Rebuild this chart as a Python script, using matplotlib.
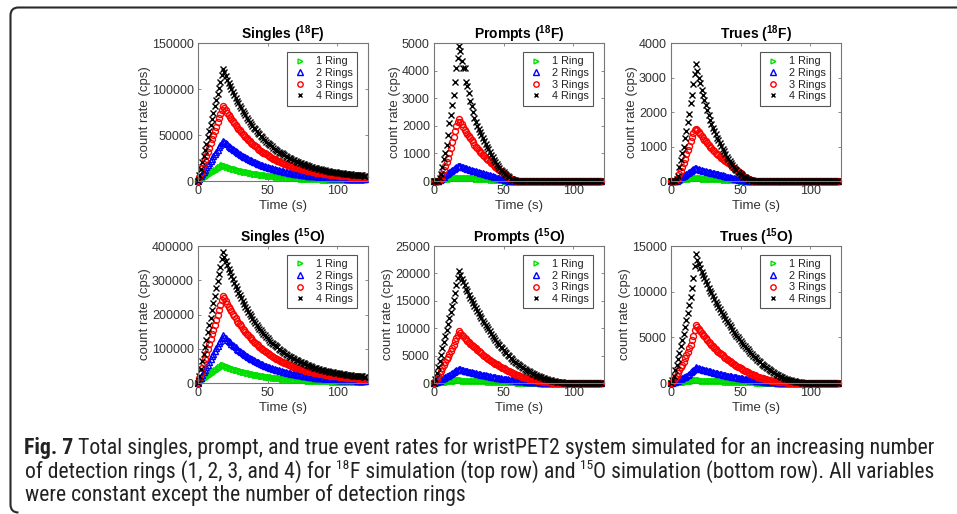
import numpy as np
import matplotlib
matplotlib.use('Agg')
import matplotlib.pyplot as plt
from matplotlib import font_manager
from matplotlib.font_manager import FontProperties
from matplotlib.path import Path
from matplotlib.patches import PathPatch

plt.rcParams['font.family'] = ['Liberation Sans', 'DejaVu Sans']
plt.rcParams['mathtext.fontset'] = 'custom'
plt.rcParams['mathtext.rm'] = 'Liberation Sans'
plt.rcParams['mathtext.bf'] = 'Liberation Sans:bold'

# ---------------- data (one sample per second, 0..120 s) ----------------
time = np.arange(0, 121)

# Singles, in kcps (t = 0..120 s)
s18_1_k = [0,0.9,1.9,2.8,3.8,4.7,5.7,6.6,7.6,8.5,9.4,10.4,11.3,12.3,13.2,14.2,15.1,16.1,
           17.0,16.4,15.9,15.4,14.9,14.4,13.9,13.5,13.0,12.6,
           12.2,11.8,11.4,11.0,10.6,10.3,9.9,9.6,9.3,9.0,
           8.7,8.4,8.1,7.8,7.6,7.3,7.1,6.8,6.6,6.4,
           6.2,6.0,5.8,5.6,5.4,5.2,5.1,4.9,4.8,4.6,
           4.5,4.3,4.2,4.0,3.9,3.8,3.7,3.5,3.4,3.3,
           3.2,3.1,3.0,2.9,2.8,2.8,2.7,2.6,2.5,2.4,
           2.4,2.3,2.2,2.2,2.1,2.0,2.0,1.9,1.9,1.8,
           1.8,1.7,1.6,1.6,1.6,1.5,1.5,1.4,1.4,1.4,
           1.3,1.3,1.3,1.2,1.2,1.2,1.1,1.1,1.1,1.1,
           1.0,1.0,1.0,1.0,0.9,0.9,0.9,0.9,0.9,0.9,
           0.8,0.8,0.8]
s18_2_k = [0,2.4,4.9,7.3,9.8,12.2,14.7,17.1,19.6,22.0,24.4,26.9,29.3,31.8,34.2,36.7,39.1,41.6,
           44.0,42.5,41.1,39.8,38.5,37.3,36.1,34.8,33.7,32.6,
           31.5,30.4,29.5,28.5,27.5,26.6,25.7,24.9,24.0,23.2,
           22.4,21.6,20.9,20.2,19.6,18.9,18.3,17.7,17.2,16.6,
           16.1,15.5,15.0,14.5,14.0,13.6,13.1,12.7,12.3,11.9,
           11.5,11.1,10.8,10.4,10.1,9.8,9.5,9.2,8.9,8.6,
           8.4,8.1,7.8,7.6,7.3,7.1,6.9,6.7,6.5,6.3,
           6.1,5.9,5.8,5.6,5.4,5.2,5.1,4.9,4.8,4.7,
           4.5,4.4,4.3,4.1,4.0,3.9,3.8,3.7,3.6,3.5,
           3.4,3.3,3.3,3.2,3.1,3.0,2.9,2.9,2.8,2.7,
           2.7,2.6,2.6,2.5,2.4,2.4,2.3,2.3,2.2,2.2,
           2.2,2.1,2.1]
s18_3_k = [0,4.6,9.1,13.7,18.2,22.8,27.3,31.9,36.4,41.0,45.6,50.1,54.7,59.2,63.8,68.3,72.9,77.4,
           82.0,79.3,76.7,74.1,71.8,69.5,67.2,64.9,62.7,60.7,
           58.6,56.7,54.9,53.1,51.3,49.6,48.0,46.3,44.7,43.2,
           41.8,40.3,39.0,37.7,36.5,35.3,34.0,33.0,32.0,30.9,
           29.9,28.9,27.9,27.0,26.1,25.3,24.4,23.7,23.0,22.2,
           21.5,20.7,20.1,19.4,18.9,18.2,17.6,17.1,16.6,16.1,
           15.6,15.1,14.6,14.1,13.7,13.3,12.9,12.5,12.1,11.7,
           11.4,11.1,10.7,10.4,10.1,9.8,9.5,9.2,8.9,8.7,
           8.4,8.2,8.0,7.7,7.5,7.3,7.1,6.9,6.7,6.6,
           6.4,6.2,6.1,5.9,5.7,5.6,5.5,5.3,5.2,5.1,
           5.0,4.8,4.8,4.6,4.5,4.4,4.3,4.3,4.2,4.1,
           4.0,3.9,3.9]
s18_4_k = [0,6.8,13.5,20.3,27.0,33.8,40.5,47.3,54.0,60.8,67.5,74.3,81.0,87.8,94.5,101.3,108.0,115.0,
           122.0,118.0,114.1,110.3,106.8,103.3,100.0,96.6,93.3,90.3,
           87.2,84.4,81.7,78.9,76.3,73.8,71.4,68.9,66.5,64.3,
           62.2,60.0,58.0,56.1,54.3,52.5,50.6,49.0,47.6,46.0,
           44.5,42.9,41.5,40.1,38.8,37.6,36.4,35.3,34.2,33.1,
           32.0,30.9,29.9,28.9,28.1,27.1,26.2,25.4,24.6,23.9,
           23.2,22.4,21.7,21.0,20.4,19.8,19.2,18.5,18.1,17.4,
           17.0,16.5,16.0,15.5,15.0,14.5,14.2,13.7,13.3,12.9,
           12.6,12.2,11.8,11.5,11.2,10.9,10.6,10.2,10.0,9.8,
           9.5,9.3,9.0,8.8,8.5,8.3,8.2,7.9,7.8,7.6,
           7.4,7.2,7.1,6.8,6.7,6.6,6.5,6.3,6.2,6.1,
           6.0,5.9,5.7]

s15_1_k = [0,2.9,5.9,8.8,11.8,14.7,17.7,20.6,23.6,26.5,29.4,32.4,35.3,38.3,41.2,44.2,47.1,50.1,
           53.0,51.3,49.6,47.9,46.4,44.9,43.5,42.0,40.5,39.2,
           37.9,36.7,35.5,34.3,33.1,32.1,31.0,29.9,28.9,27.9,
           27.0,26.1,25.2,24.4,23.6,22.8,22.0,21.3,20.7,20.0,
           19.3,18.7,18.0,17.4,16.9,16.3,15.8,15.3,14.8,14.4,
           13.9,13.4,13.0,12.6,12.2,11.8,11.4,11.0,10.7,10.4,
           10.1,9.8,9.4,9.1,8.9,8.6,8.3,8.1,7.8,7.6,
           7.4,7.2,6.9,6.7,6.5,6.3,6.1,5.9,5.8,5.6,
           5.5,5.3,5.1,5.0,4.9,4.7,4.6,4.5,4.3,4.2,
           4.1,4.0,3.9,3.8,3.7,3.6,3.6,3.4,3.4,3.3,
           3.2,3.1,3.1,3.0,2.9,2.9,2.8,2.8,2.7,2.7,
           2.6,2.5,2.5]
s15_2_k = [0,8,16,23,31,39,47,54,62,70,78,86,93,101,109,117,124,132,
           140,135,131,127,123,119,115,111,107,104,
           100,97,94,91,88,85,82,79,76,74,
           71,69,67,64,62,60,58,56,55,53,
           51,49,48,46,45,43,42,40,39,38,
           37,35,34,33,32,31,30,29,28,27,
           27,26,25,24,23,23,22,21,21,20,
           19,19,18,18,17,17,16,16,15,15,
           14,14,14,13,13,12,12,12,11,11,
           11,11,10,10,10,10,9,9,9,9,
           9,8,8,8,8,8,7,7,7,7,
           7,7,7]
s15_3_k = [0,14,28,43,57,71,85,99,113,128,142,156,170,184,198,213,227,241,
           255,247,238,231,223,216,209,202,195,189,
           182,176,171,165,159,154,149,144,139,134,
           130,125,121,117,113,110,106,103,99,96,
           93,90,87,84,81,79,76,74,71,69,
           67,65,62,60,59,57,55,53,52,50,
           48,47,45,44,43,41,40,39,38,36,
           35,34,33,32,31,30,30,29,28,27,
           26,26,25,24,23,23,22,21,21,20,
           20,19,19,18,18,17,17,17,16,16,
           16,15,15,14,14,14,14,13,13,13,
           12,12,12]
s15_4_k = [0,21,42,64,85,106,127,149,170,191,212,233,255,276,297,318,340,361,
           382,369,357,345,334,324,313,303,292,283,
           273,264,256,247,239,231,223,216,208,201,
           195,188,181,176,170,164,159,154,149,144,
           139,134,130,126,121,118,114,110,107,104,
           100,97,94,91,88,85,82,79,77,75,
           73,70,68,66,64,62,60,58,57,55,
           53,52,50,49,47,45,44,43,42,40,
           39,38,37,36,35,34,33,32,31,31,
           30,29,28,28,27,26,26,25,24,24,
           23,23,22,21,21,21,20,20,19,19,
           19,18,18]

# Prompts / Trues in cps (values from t = 0 s; zero afterwards)
p18_1 = [0,0,0,0,5,15,25,38,50,60,70,80,90,98,105,110,115,120,125,120,115,112,110,108,105,102,100,98,95,92,
         90,88,85,82,80,76,72,68,65,62,58,54,50,46,43,39,35,31,27,23,20,16,13,10,7,5,3,2,0]
p18_2 = [0,0,0,0,20,60,100,150,200,245,290,330,370,405,440,475,510,535,560,535,510,490,470,455,440,425,410,395,380,365,
         350,335,320,305,290,275,260,245,230,215,200,185,170,155,140,125,110,95,80,68,55,45,35,25,15,10,5,2,0]
p18_3 = [0,0,0,0,30,120,250,400,550,700,850,1030,1200,1400,1600,1800,2000,2150,2250,2150,2050,1950,1850,1780,1700,1620,1550,1480,1400,1320,
         1250,1190,1130,1060,1000,950,900,850,800,760,720,670,620,570,520,475,430,390,350,315,280,240,200,160,120,90,60,40,20,10,0]
p18_4 = [0,0,0,0,100,250,500,800,1000,1300,1650,2100,2400,2750,3100,3600,4100,4450,4900,4700,4350,4100,4100,3600,3450,3200,2900,2700,2500,2300,
         2150,2000,1900,1780,1650,1550,1450,1350,1250,1150,1050,950,860,770,690,610,540,470,410,360,310,260,210,170,130,90,60,40,20,10,0]

t18_1 = [0,0,0,0,3,8,15,22,30,38,45,52,58,64,70,75,80,84,88,84,80,78,75,72,70,68,66,64,62,60,
         58,56,54,52,50,48,46,44,42,40,38,35,33,30,28,25,23,20,18,15,13,10,8,6,4,3,2,1,0]
t18_2 = [0,0,0,0,10,30,60,90,120,150,180,210,240,270,300,325,350,365,380,360,340,325,310,300,290,280,270,260,250,240,
         230,220,210,200,190,180,170,160,150,140,130,120,110,100,90,80,70,60,50,42,35,27,20,15,10,7,5,2,0]
t18_3 = [0,0,0,0,30,100,200,300,400,520,650,780,900,1020,1150,1280,1400,1480,1520,1470,1420,1360,1300,1250,1200,1150,1100,1050,1000,950,
         900,860,820,785,750,715,680,650,620,590,560,525,490,455,420,385,350,315,280,250,220,185,150,120,90,65,45,30,15,5,0]
t18_4 = [0,0,0,0,50,150,400,600,800,1000,1250,1450,1700,1950,2250,2500,2800,3100,3400,3200,3000,2850,2650,2500,2350,2200,2050,1900,1780,1650,
         1550,1450,1350,1260,1180,1100,1020,940,860,780,710,640,570,510,460,400,350,310,270,235,200,165,130,105,80,60,40,25,15,5,0]

p15_1 = [0,20,40,65,90,115,140,170,200,230,260,290,320,350,380,410,440,470,500,485,470,455,440,430,420,410,400,390,380,370,
         360,350,340,330,320,310,300,290,280,270,260,250,240,230,220,210,200,190,180,172,165,157,150,142,135,127,120,112,105,97,
         90,84,78,72,66,60,55,50,45,41,37,33,30,26,23,20,17,14,12,10,8,6,5,4,3,2,2,1,1,0]
p15_2 = [0,100,200,320,450,600,750,900,1050,1200,1350,1500,1650,1800,1950,2120,2300,2450,2600,2500,2400,2320,2250,2180,2120,2060,2000,1940,1880,1820,
         1760,1700,1650,1600,1540,1480,1430,1380,1330,1280,1230,1180,1130,1080,1040,990,950,900,860,820,780,740,700,660,620,580,550,510,480,450,
         420,390,360,335,310,285,260,240,220,200,180,165,150,135,120,105,90,80,70,60,50,42,35,27,20,15,10,7,5,2,0]
p15_3 = [0,300,700,1200,1700,2200,2700,3250,3800,4300,4800,5350,5900,6450,7000,7600,8200,8850,9500,9150,8800,8500,8200,7950,7700,7450,7200,6950,6700,6500,
         6300,6050,5800,5600,5400,5200,5000,4800,4600,4420,4250,4080,3900,3720,3550,3400,3250,3100,2950,2800,2650,2500,2350,2220,2100,1970,1850,1750,1650,1550,
         1450,1350,1250,1160,1080,1000,920,850,780,720,660,600,540,490,440,395,350,310,270,235,200,170,140,115,90,70,55,40,30,20,15,10,5,0]
p15_4 = [0,700,1800,2900,4000,5100,6300,7400,8500,9600,10700,11800,13000,14100,15200,16500,17800,19200,20500,19700,19000,18400,17800,17200,16700,16100,15600,15100,14600,14100,
         13700,13200,12800,12300,11900,11400,11000,10600,10200,9800,9400,9000,8600,8200,7900,7500,7200,6900,6600,6300,6000,5700,5400,5100,4850,4550,4300,4050,3800,3600,
         3400,3200,3050,2850,2700,2550,2400,2250,2100,1950,1850,1700,1600,1450,1350,1250,1150,1050,950,850,780,700,620,550,480,420,350,300,250,210,
         170,130,100,70,50,30,20,10,0]

t15_1 = [0,5,15,28,40,55,70,85,100,120,140,160,180,200,220,240,260,280,300,292,285,278,270,262,255,248,240,234,228,222,
         215,208,202,196,190,184,178,172,166,160,154,148,143,138,132,127,122,117,112,107,102,97,93,88,84,80,75,71,67,63,
         59,55,52,48,45,42,39,36,33,30,28,25,23,21,19,17,15,13,12,10,9,8,7,6,5,4,3,2,1,1,0]
t15_2 = [0,40,80,140,200,270,350,430,520,610,700,800,900,1020,1150,1270,1400,1550,1700,1650,1600,1550,1500,1460,1420,1380,1340,1300,1260,1220,
         1180,1140,1100,1065,1030,995,960,925,890,855,820,790,760,730,700,670,640,610,580,550,520,495,470,445,420,395,370,345,320,300,
         280,260,240,220,200,185,170,155,140,125,110,100,90,80,70,60,50,42,35,30,25,20,15,11,8,6,4,3,2,1,0]
t15_3 = [0,130,300,550,800,1100,1400,1700,2000,2350,2700,3050,3400,3800,4200,4700,5200,5800,6400,6150,5900,5700,5500,5300,5100,4900,4700,4520,4350,4170,
         4000,3850,3700,3550,3400,3270,3150,3020,2900,2770,2650,2520,2400,2300,2200,2100,2000,1900,1800,1700,1600,1510,1420,1340,1260,1180,1100,1030,960,900,
         830,770,710,650,600,550,500,450,410,370,330,295,260,230,200,175,150,130,110,95,80,67,55,45,35,27,20,15,10,5,0]
t15_4 = [0,300,800,1400,2000,2600,3300,4000,4700,5400,6100,6900,7700,8500,9400,10400,11500,12800,14100,13500,13000,12600,12200,11850,11500,11150,10800,10450,10100,9800,
         9500,9200,8900,8600,8300,8050,7800,7550,7300,7050,6800,6550,6300,6080,5850,5620,5400,5200,5000,4800,4600,4400,4200,4020,3850,3670,3500,3320,3150,3000,
         2850,2700,2550,2400,2250,2110,1980,1860,1750,1630,1520,1410,1300,1200,1100,1010,920,840,760,690,620,550,490,430,380,330,280,240,200,170,
         140,115,90,70,50,35,25,15,10,5,0]

labels = ['1 Ring', '2 Rings', '3 Rings', '4 Rings']
titles = [r'Singles ($\mathbf{^{18}}$F)', r'Prompts ($\mathbf{^{18}}$F)', r'Trues ($\mathbf{^{18}}$F)',
          r'Singles ($\mathbf{^{15}}$O)', r'Prompts ($\mathbf{^{15}}$O)', r'Trues ($\mathbf{^{15}}$O)']
KCPS = 1000.0
series = [[np.array(s) * KCPS for s in (s18_1_k, s18_2_k, s18_3_k, s18_4_k)],
          [p18_1, p18_2, p18_3, p18_4], [t18_1, t18_2, t18_3, t18_4],
          [np.array(s) * KCPS for s in (s15_1_k, s15_2_k, s15_3_k, s15_4_k)],
          [p15_1, p15_2, p15_3, p15_4], [t15_1, t15_2, t15_3, t15_4]]
yticks = [[0, 50000, 100000, 150000], [0, 1000, 2000, 3000, 4000, 5000], [0, 1000, 2000, 3000, 4000],
          [0, 100000, 200000, 300000, 400000], [0, 5000, 10000, 15000, 20000, 25000], [0, 5000, 10000, 15000]]
xticks = [0, 50, 100]

def full(v):
    v = list(v)[:len(time)]
    return v + [0] * (len(time) - len(v))

# ---------------- style ----------------
colors = ['#00e000', '#0000ff', '#ff0000', '#000000']
markers = ['>', '^', 'o', 'x']
msizes = [3.9, 4.1, 4.3, 3.8]
tick_col = '#333333'
spine_col = '#777777'

W, H = 957, 514
fig = plt.figure(figsize=(W / 100, H / 100), dpi=100)

col_left = [198, 434, 671]
row_top = [43, 246]
ax_w = 170
ax_h = [138, 137]

for i in range(6):
    r, c = divmod(i, 3)
    x0 = col_left[c]
    y0 = row_top[r]
    ax = fig.add_axes([x0 / W, 1 - (y0 + ax_h[r]) / H, ax_w / W, ax_h[r] / H])
    handles = []
    for k in range(4):
        y = full(series[i][k])
        if markers[k] == 'x':
            h, = ax.plot(time, y, ls='none', marker='x', ms=msizes[k], mew=1.0,
                         color=colors[k], clip_on=False, label=labels[k])
        else:
            h, = ax.plot(time, y, ls='none', marker=markers[k], ms=msizes[k], mew=1.0,
                         mfc='none', mec=colors[k], clip_on=False, label=labels[k])
        handles.append(h)
    ax.set_xlim(0, 122)
    ax.set_ylim(yticks[i][0], yticks[i][-1])
    ax.set_xticks(xticks)
    ax.set_yticks(yticks[i])
    ax.tick_params(direction='in', length=2.5, width=0.6, top=True, right=True,
                   labelsize=9, colors=spine_col, labelcolor=tick_col, pad=3)
    for s in ax.spines.values():
        s.set_color(spine_col)
        s.set_linewidth(0.8)
    ax.set_title(titles[i], fontsize=10, fontweight='bold', pad=3)
    ax.set_ylabel('count rate (cps)', fontsize=9.5, color=tick_col, labelpad=0.5)
    ax.set_xlabel('Time (s)', fontsize=9.5, color=tick_col, labelpad=2)
    leg = ax.legend(handles=handles, loc='upper right', bbox_to_anchor=(0.935, 0.935),
                    fontsize=7.8, frameon=True, fancybox=False, borderpad=0.4,
                    labelspacing=0.15, handlelength=1.5, handletextpad=0.7,
                    borderaxespad=0, framealpha=1, markerscale=0.9)
    leg.get_frame().set_edgecolor('#555555')
    leg.get_frame().set_linewidth(0.8)
    for t in leg.get_texts():
        t.set_color('#222222')

# ---------------- frame ----------------
r_ = 8
fx, ft, fb = 10.5, 7.5, 512.5
verts = [(W, ft), (fx + r_, ft), (fx, ft), (fx, ft + r_), (fx, fb - r_), (fx, fb), (fx + r_, fb)]
codes = [Path.MOVETO, Path.LINETO, Path.CURVE3, Path.CURVE3, Path.LINETO, Path.CURVE3, Path.CURVE3]
verts = [(x / W, 1 - y / H) for x, y in verts]
fig.add_artist(PathPatch(Path(verts, codes), transform=fig.transFigure, fill=False,
                         edgecolor='#2a2a2a', lw=1.5))

# ---------------- caption ----------------
def find_condensed():
    pref = ['Liberation Sans Narrow', 'Roboto Condensed', 'Open Sans Condensed',
            'Noto Sans Condensed', 'Noto Sans', 'DejaVu Sans', 'Open Sans', 'Roboto', 'Lato', 'Inter']
    fl = font_manager.fontManager.ttflist
    def wnum(w):
        if isinstance(w, (int, float)):
            return w
        return font_manager.weight_dict.get(str(w).lower(), 400)
    for p in pref:
        named_cond = ('Narrow' in p) or ('Condensed' in p)
        cand = [f for f in fl if f.name == p and f.style == 'normal'
                and (named_cond or str(f.stretch) in ('condensed', 'semi-condensed'))]
        reg = [f for f in cand if wnum(f.weight) == 400]
        bold = [f for f in cand if wnum(f.weight) == 700]
        if reg:
            return reg[0].fname, (bold[0].fname if bold else reg[0].fname)
    return None

found = find_condensed()

def fprops(weight, size):
    if found:
        return FontProperties(fname=found[1] if weight == 'bold' else found[0], size=size)
    return FontProperties(family='Liberation Sans', weight=weight, size=size)

renderer = fig.canvas.get_renderer()

def tw(s, size, weight='normal'):
    t = fig.text(0, 0, s, fontproperties=fprops(weight, size))
    w = t.get_window_extent(renderer).width
    t.remove()
    return w

base = 14.0
sp0 = tw('a a', base) - tw('aa', base)
line1_rest = 'Total singles, prompt, and true event rates for wristPET2 system simulated for an increasing number'
w1 = tw('Fig. 7', base, 'bold') + sp0 + tw(line1_rest, base)
size = base * 917.0 / w1
sp = tw('a a', size) - tw('aa', size)
cap_col = '#222222'

def place(pieces, x, yb):
    for txt, weight, sup, gap in pieces:
        if gap:
            x += sp
        fs = size * 0.62 if sup else size
        yy = yb - (size * 0.42 * 100 / 72 if sup else 0)
        t = fig.text(x / W, 1 - yy / H, txt, fontproperties=fprops(weight, fs),
                     va='baseline', ha='left', color=cap_col)
        x = t.get_window_extent(renderer).x1

place([('Fig. 7', 'bold', False, False), (line1_rest, 'normal', False, True)], 24, 454)
place([('of detection rings (1, 2, 3, and 4) for', 'normal', False, False),
       ('18', 'normal', True, True), ('F simulation (top row) and', 'normal', False, False),
       ('15', 'normal', True, True), ('O simulation (bottom row). All variables', 'normal', False, False)], 25, 478)
place([('were constant except the number of detection rings', 'normal', False, False)], 25, 501)

fig.savefig('out.png', dpi=100)
